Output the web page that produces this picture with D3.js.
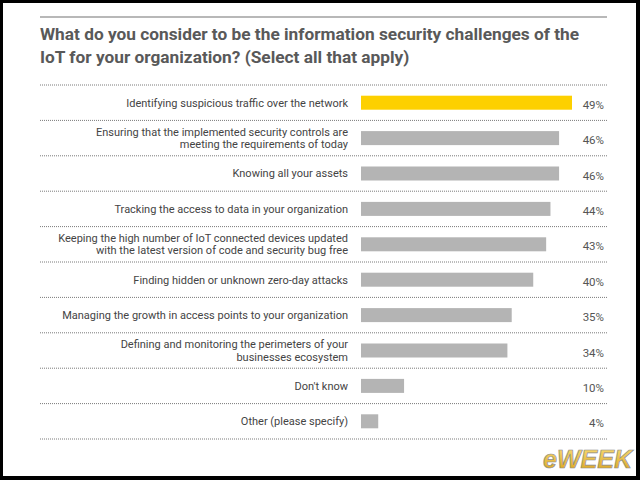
<!DOCTYPE html>
<html>
<head>
<meta charset="utf-8">
<script src="https://cdn.jsdelivr.net/npm/d3@7"></script>
<style>
	html, body { margin: 0; padding: 0; background: #000; }
	svg { display: block; }
	.title { font-family: Roboto, "Liberation Sans", sans-serif; font-weight: 700; font-size: 17.3px; fill: #595959; }
	.row-label { font-family: Roboto, "Liberation Sans", sans-serif; font-size: 11px; fill: #444; }
	.pct-label { font-family: Roboto, "Liberation Sans", sans-serif; font-size: 11.5px; fill: #555; }
</style>
</head>
<body>
<svg id="chart"></svg>
<script>
// survey answers, each entry is the lines of the label as printed
const categories = [
	['Identifying suspicious traffic over the network'],
	['Ensuring that the implemented security controls are', 'meeting the requirements of today'],
	['Knowing all your assets'],
	['Tracking the access to data in your organization'],
	['Keeping the high number of IoT connected devices updated', 'with the latest version of code and security bug free'],
	['Finding hidden or unknown zero-day attacks'],
	['Managing the growth in access points to your organization'],
	['Defining and monitoring the perimeters of your', 'businesses ecosystem'],
	['Don\'t know'],
	['Other (please specify)']
];
const values = [49, 46, 46, 44, 43, 40, 35, 34, 10, 4];
const titleLines = [
	'What do you consider to be the information security challenges of the',
	'IoT for your organization? (Select all that apply)'
];

class SurveyBarChart {

	/**
	* @param {string} chartSelector selector of the svg
	* @param {object} options overrides for the defaults
	*/
	constructor(chartSelector, options) {
		let defaults = {
			width: 640,
			height: 480,
			left: 40,
			right: 607,
			rowsTop: 85,
			rowsBottom: 439,
			barLeft: 361,
			barMaxRight: 572,
			labelRight: 348,
			pctRight: 604,
			barHeight: 14,
			lineHeight: 12.5,
			highlight: '#fdd000',
			barColor: '#b4b4b4'
		};
		this.settings = Object.assign({}, defaults, options);
		this.svg = d3.select(chartSelector)
			.attr('width', this.settings.width)
			.attr('height', this.settings.height);

		this._createScales();
		this._drawFrame();
		this._drawTitle();
		this._drawRows();
		this._drawLogo();
	}

	_createScales() {
		let s = this.settings,
			step = (s.rowsBottom - s.rowsTop) / categories.length,
			inner = 1 - s.barHeight / step;

		this.yScale = d3.scaleBand()
			.domain(d3.range(categories.length))
			.range([s.rowsTop, s.rowsBottom])
			.paddingInner(inner)
			.paddingOuter(inner / 2);

		this.xScale = d3.scaleLinear()
			.domain([0, d3.max(values)])
			.range([s.barLeft, s.barMaxRight]);
	}

	_drawFrame() {
		// black edge of the screenshot, white page inside
		this.svg.append('rect')
			.attr('width', this.settings.width)
			.attr('height', this.settings.height)
			.attr('fill', '#000');
		this.svg.append('rect')
			.attr('x', 3).attr('y', 3)
			.attr('width', 633).attr('height', 473)
			.attr('fill', '#fff');
	}

	_drawTitle() {
		let s = this.settings;
		this.svg.append('line')
			.attr('x1', s.left).attr('x2', s.right)
			.attr('y1', 17).attr('y2', 17)
			.attr('stroke', '#a0a0a0')
			.attr('stroke-width', 1.5);

		this.svg.append('g')
			.selectAll('text')
			.data(titleLines)
			.enter()
			.append('text')
			.attr('class', 'title')
			.attr('x', s.left)
			.attr('y', (d, i) => 40 + i * 23)
			.text(d => d);
	}

	_drawRows() {
		let s = this.settings,
			y = this.yScale,
			step = y.step(),
			top = s.rowsTop;

		// dotted separators on the row boundaries
		this.svg.append('g')
			.selectAll('line')
			.data(d3.range(categories.length + 1))
			.enter()
			.append('line')
			.attr('x1', s.left).attr('x2', s.right)
			.attr('y1', d => top + d * step)
			.attr('y2', d => top + d * step)
			.attr('stroke', '#7a7a7a')
			.attr('stroke-width', 1)
			.attr('stroke-dasharray', '1,1');

		this.svg.append('g')
			.selectAll('rect')
			.data(values)
			.enter()
			.append('rect')
			.attr('x', this.xScale(0))
			.attr('y', (d, i) => y(i))
			.attr('width', d => this.xScale(d) - this.xScale(0))
			.attr('height', y.bandwidth())
			.attr('fill', (d, i) => i === 0 ? s.highlight : s.barColor);

		let labels = this.svg.append('g')
			.selectAll('text')
			.data(categories)
			.enter()
			.append('text')
			.attr('class', 'row-label')
			.attr('text-anchor', 'end')
			.attr('x', s.labelRight)
			.attr('y', (d, i) => y(i) + y.bandwidth() / 2 - (d.length - 1) * s.lineHeight / 2);

		labels.selectAll('tspan')
			.data(d => d)
			.enter()
			.append('tspan')
			.attr('x', s.labelRight)
			.attr('dy', (d, i) => i === 0 ? '0.35em' : s.lineHeight)
			.text(d => d);

		this.svg.append('g')
			.selectAll('text')
			.data(values)
			.enter()
			.append('text')
			.attr('class', 'pct-label')
			.attr('text-anchor', 'end')
			.attr('x', s.pctRight)
			.attr('y', (d, i) => y(i) + y.bandwidth() / 2 + 2)
			.attr('dy', '0.35em')
			.text(d => d + '%');
	}

	_drawLogo() {
		let defs = this.svg.append('defs');
		let grad = defs.append('linearGradient')
			.attr('id', 'logoGrad')
			.attr('x1', 0).attr('y1', 0).attr('x2', 0).attr('y2', 1);
		grad.append('stop').attr('offset', '0%').attr('stop-color', '#fbe07a');
		grad.append('stop').attr('offset', '100%').attr('stop-color', '#d9a11c');

		this.svg.append('text')
			.attr('x', 632)
			.attr('y', 468)
			.attr('text-anchor', 'end')
			.attr('font-family', '"Liberation Sans", sans-serif')
			.attr('font-weight', 700)
			.attr('font-style', 'italic')
			.attr('font-size', 25)
			.attr('fill', 'url(#logoGrad)')
			.attr('stroke', '#8c8c8c')
			.attr('stroke-width', 0.7)
			.text('eWEEK');
	}
}

new SurveyBarChart('#chart');
</script>
</body>
</html>
